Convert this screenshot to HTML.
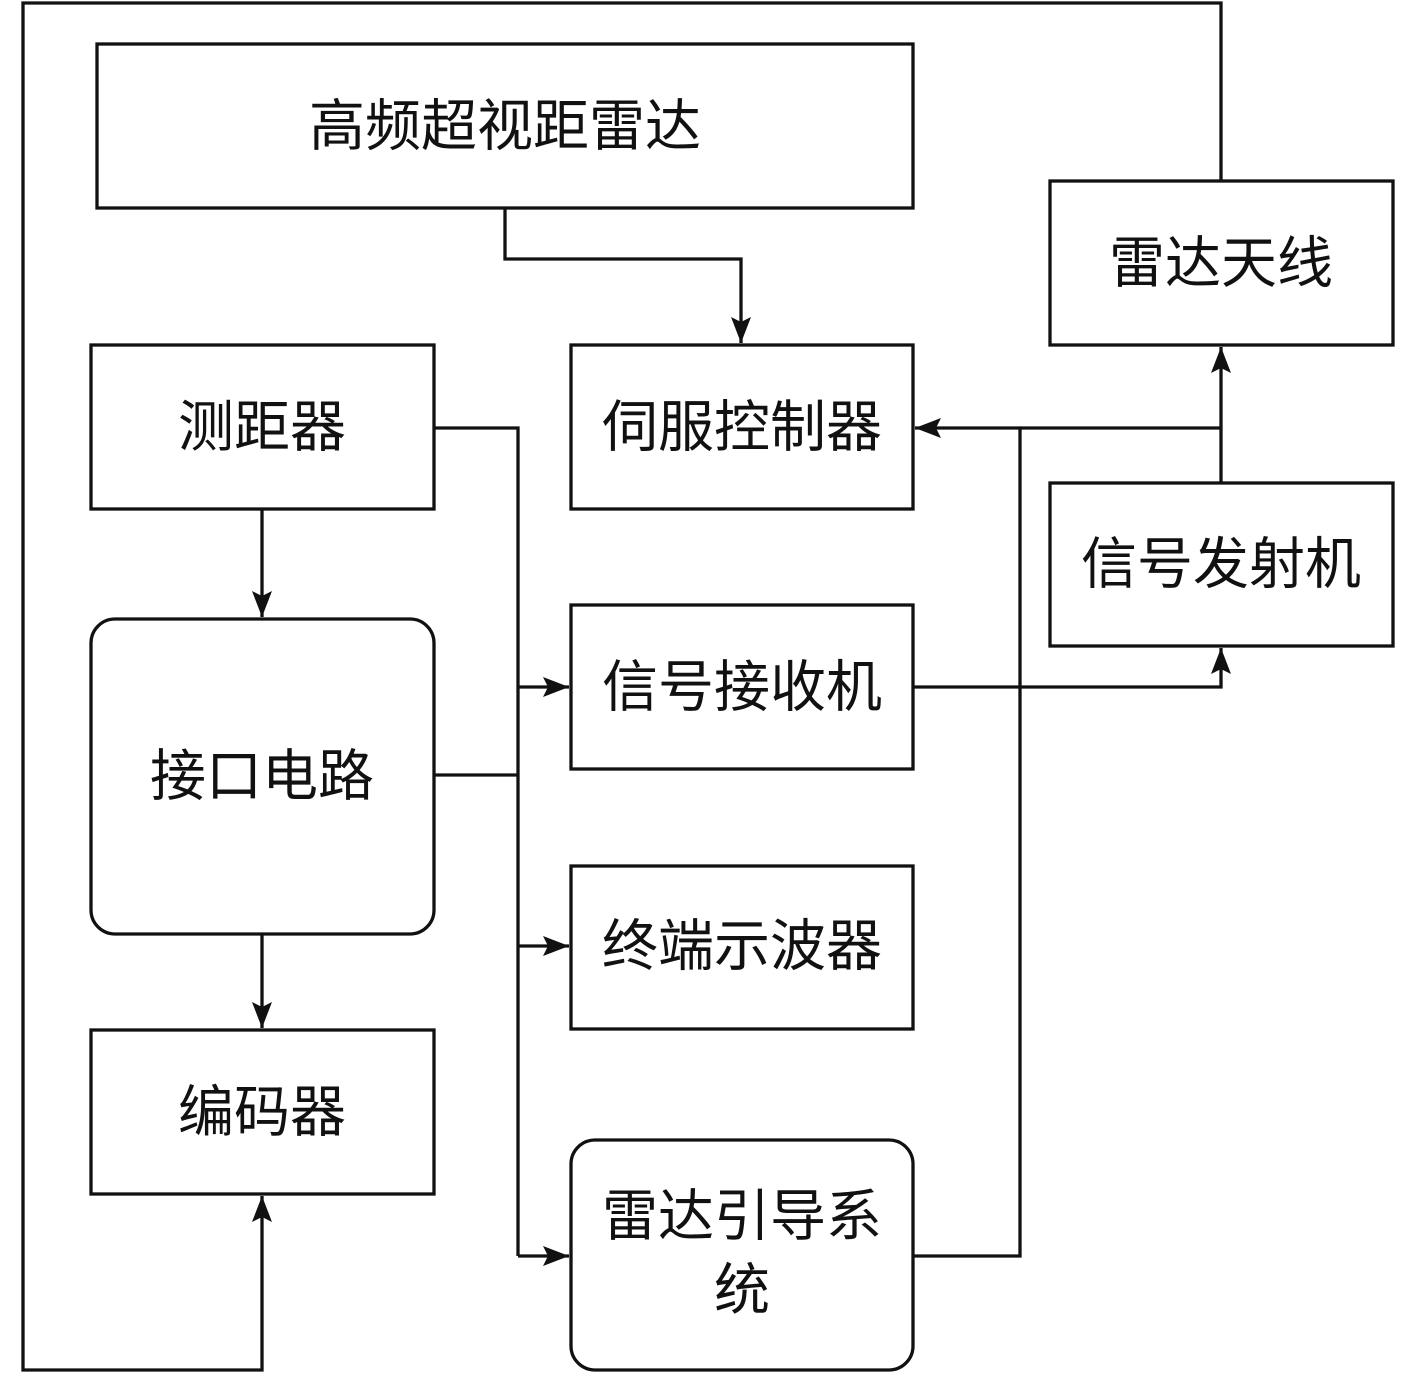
<!DOCTYPE html>
<html><head><meta charset="utf-8"><style>
html,body{margin:0;padding:0;background:#fff;}
svg text{font-family:"Liberation Sans","Noto Sans CJK SC",sans-serif;font-size:56px;fill:#111;text-anchor:middle;dominant-baseline:central;}
</style></head><body>
<svg width="1417" height="1375" viewBox="0 0 1417 1375" xmlns="http://www.w3.org/2000/svg">
<defs>
<marker id="b" markerWidth="26" markerHeight="20" refX="26" refY="10" orient="auto" markerUnits="userSpaceOnUse"><path d="M0,0 L26,10 L0,20 L5,10 z" fill="#111"/></marker></defs>
<g fill="none" stroke="#111" stroke-width="3.3">
<rect x="97" y="44" width="816" height="164"/>
<rect x="1050" y="181" width="343" height="164"/>
<rect x="91" y="345" width="343" height="164"/>
<rect x="571" y="345" width="342" height="164"/>
<rect x="1050" y="483" width="343" height="163"/>
<rect x="91" y="619" width="343" height="315" rx="24"/>
<rect x="571" y="605" width="342" height="164"/>
<rect x="571" y="866" width="342" height="163"/>
<rect x="91" y="1030" width="343" height="164"/>
<rect x="571" y="1140" width="342" height="230" rx="24"/>
<polyline points="1221,181 1221,3 23,3 23,1370 262,1370 262,1196" marker-end="url(#b)"/>
<polyline points="505,208 505,259 741,259 741,343" marker-end="url(#b)"/>
<line x1="262" y1="509" x2="262" y2="617" marker-end="url(#b)"/>
<line x1="262" y1="934" x2="262" y2="1028" marker-end="url(#b)"/>
<polyline points="434,428 518,428 518,1256"/>
<line x1="434" y1="775" x2="518" y2="775"/>
<line x1="518" y1="687" x2="569" y2="687" marker-end="url(#b)"/>
<line x1="518" y1="946" x2="569" y2="946" marker-end="url(#b)"/>
<line x1="518" y1="1256" x2="569" y2="1256" marker-end="url(#b)"/>
<polyline points="913,1256 1020,1256 1020,428 915,428" marker-end="url(#b)"/>
<line x1="1020" y1="428" x2="1221" y2="428"/>
<line x1="1221" y1="483" x2="1221" y2="347" marker-end="url(#b)"/>
<polyline points="913,687 1221,687 1221,648" marker-end="url(#b)"/>
</g>
<text x="505" y="126">高频超视距雷达</text>
<text x="1221" y="263">雷达天线</text>
<text x="262" y="427">测距器</text>
<text x="742" y="427">伺服控制器</text>
<text x="1221" y="564">信号发射机</text>
<text x="262" y="776">接口电路</text>
<text x="742" y="687">信号接收机</text>
<text x="742" y="946">终端示波器</text>
<text x="262" y="1112">编码器</text>
<text x="742" y="1216">雷达引导系</text>
<text x="742" y="1290">统</text>
</svg>
</body></html>
